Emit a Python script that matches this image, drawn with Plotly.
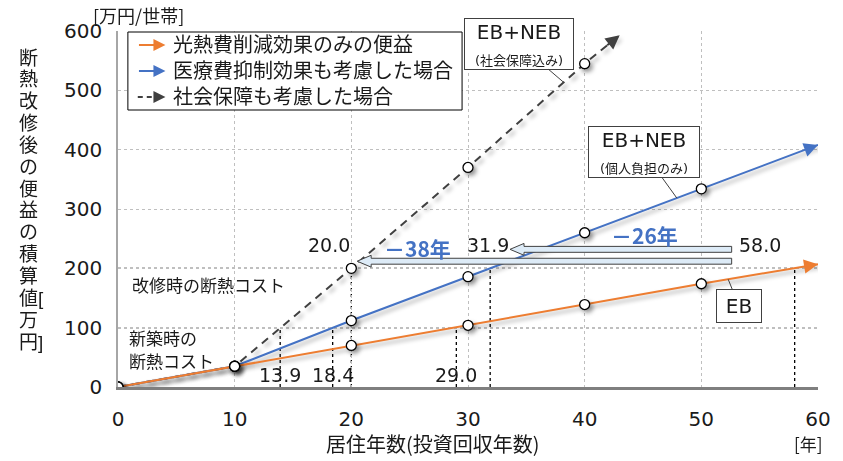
import plotly.graph_objects as go

# ---- data -------------------------------------------------------------
years = [0, 10, 20, 30, 40, 50]
eb = [0, 35, 70, 104, 139, 174]              # 光熱費削減効果のみ
eb_neb = [0, 35, 112, 186, 260, 334]         # 医療費抑制効果も考慮
years_ss = [0, 10, 20, 30, 40]
eb_neb_ss = [0, 35, 200, 370, 545]           # 社会保障も考慮

eb_end = (60, 207)
eb_neb_end = (60, 408)
eb_neb_ss_end = (43.0, 593)

cost_new = 100        # 新築時の断熱コスト
cost_retrofit = 200   # 改修時の断熱コスト

payback_ss = [13.9, 20.0]
payback_neb = [18.4, 31.9]
payback_eb = [29.0, 58.0]

x_ticks = [0, 10, 20, 30, 40, 50, 60]
y_ticks = [0, 100, 200, 300, 400, 500, 600]

ORANGE = "#ED7D31"
BLUE = "#4472C4"
DARK = "#404040"
TXT = "#1a1a1a"
FONT = "DejaVu Sans, Noto Sans CJK JP, sans-serif"
JFONT = "Noto Sans CJK JP, DejaVu Sans, sans-serif"
# Latin-first stack: CJK glyphs still come from Noto, but line boxes stay compact
TIGHT_FONT = "Liberation Sans, Noto Sans CJK JP, sans-serif"

# plot-area pixel frame (used to place free text in paper coordinates)
L, R, T, B = 118, 826, 31, 387
W, H = R - L, B - T
X_MAX, Y_MAX = 60, 600


def px(x):
    return (x - L) / W


def py(y):
    return (B - y) / H


def to_pix(x, y):
    return L + x * W / X_MAX, B - y * H / Y_MAX


fig = go.Figure()

series = [
    (years, eb, eb_end, ORANGE, "solid"),
    (years, eb_neb, eb_neb_end, BLUE, "solid"),
    (years_ss, eb_neb_ss, eb_neb_ss_end, DARK, "8px,6px"),
]

# draw the dashed one first so the solid lines sit above it
for xs, ys, end, color, dash in reversed(series):
    fig.add_trace(go.Scatter(
        x=xs + [end[0]], y=ys + [end[1]], mode="lines",
        line=dict(color=color, width=2, dash=dash),
        hoverinfo="skip", showlegend=False,
    ))

annotations = []
shapes = []


def txt(xp, yp, text, size, family=JFONT, color=TXT, xanchor="center",
        align="center"):
    annotations.append(dict(x=px(xp), y=py(yp), xref="paper", yref="paper",
                            xanchor=xanchor, yanchor="middle", align=align,
                            text=text, showarrow=False,
                            font=dict(size=size, color=color, family=family)))


# arrow heads at the end of each series
for xs, ys, end, color, dash in series:
    slope = (end[1] - ys[-1]) / (end[0] - xs[-1])
    annotations.append(dict(
        x=end[0], y=end[1], xref="x", yref="y",
        ax=end[0] - 1.2, ay=end[1] - slope * 1.2, axref="x", ayref="y",
        showarrow=True, arrowhead=2, arrowsize=1.4, arrowwidth=2,
        arrowcolor=color, text="", standoff=0,
    ))

# reference cost levels
for level in (cost_new, cost_retrofit):
    shapes.append(dict(type="line", xref="x", yref="y", x0=0, x1=X_MAX,
                       y0=level, y1=level, layer="below",
                       line=dict(color="#000000", width=1.3, dash="dot")))

# payback-year drop lines
for yrs in (payback_ss, payback_neb, payback_eb):
    for yr, level in zip(yrs, (cost_new, cost_retrofit)):
        shapes.append(dict(type="line", xref="x", yref="y", x0=yr, x1=yr,
                           y0=0, y1=level, layer="below",
                           line=dict(color="#000000", width=1.3, dash="dot")))

# markers on top
for xs, ys, end, color, dash in series:
    fig.add_trace(go.Scatter(
        x=xs, y=ys, mode="markers",
        marker=dict(size=10, color="white", line=dict(color="#000000", width=1.3)),
        hoverinfo="skip", showlegend=False,
    ))

# ---- block arrows showing the shortened payback ---------------------
def block_arrow(x_tail, x_tip, yc, shaft=10.0, head=20.0, head_len=1.2):
    hs, hh = shaft / 2, head / 2
    xb = x_tip + head_len
    return (f"M {x_tail},{yc - hs} L {xb},{yc - hs} L {xb},{yc - hh} "
            f"L {x_tip},{yc} L {xb},{yc + hh} L {xb},{yc + hs} "
            f"L {x_tail},{yc + hs} Z")


tail_x = payback_eb[1] - 5.4
tip_ss = payback_ss[1] + 0.5
tip_neb = payback_neb[1] + 1.7
shapes.append(dict(type="path", xref="x", yref="y",
                   path=block_arrow(tail_x, tip_ss, 212),
                   fillcolor="#DDEBF7", line=dict(color=DARK, width=1)))
shapes.append(dict(type="path", xref="x", yref="y",
                   path=block_arrow(tail_x, tip_neb, 232),
                   fillcolor="#DDEBF7", line=dict(color=DARK, width=1)))

# ---- numeric labels ---------------------------------------------------
for yr in (payback_ss[0], payback_neb[0], payback_eb[0]):
    annotations.append(dict(x=yr, y=0, xref="x", yref="y", yshift=12,
                            yanchor="middle", xanchor="center",
                            text=f"{yr:.1f}", showarrow=False,
                            font=dict(size=19, color=TXT, family=FONT)))

for xv, label, anchor, shift in ((payback_ss[1], payback_ss[1], "right", 1),
                                 (tip_neb, payback_neb[1], "right", 1),
                                 (tail_x, payback_eb[1], "left", 5)):
    annotations.append(dict(x=xv, y=239, xref="x", yref="y",
                            xanchor=anchor, yanchor="middle", xshift=shift,
                            text=f"{label:.1f}", showarrow=False,
                            font=dict(size=19, color=TXT, family=FONT)))

txt(421, 248, "<b>－38年</b>", 21, color=BLUE)
txt(651, 235, "<b>－26年</b>", 21, color=BLUE)

# cost captions
txt(130, 284, "改修時の断熱コスト", 17, xanchor="left")
txt(127, 339, "新築時の", 17, family=TIGHT_FONT, xanchor="left")
txt(127, 362, "断熱コスト", 17, family=TIGHT_FONT, xanchor="left")

# ---- callouts -----------------------------------------------------------
def interp(xs, ys, end, x):
    pts = list(zip(xs + [end[0]], ys + [end[1]]))
    for (x0, y0), (x1, y1) in zip(pts[:-1], pts[1:]):
        if x0 <= x <= x1:
            return y0 + (y1 - y0) * (x - x0) / (x1 - x0)
    return pts[-1][1]


def callout(xs, ys, end, x_on, center, text, w, h):
    y_on = interp(xs, ys, end, x_on)
    tx, ty = to_pix(x_on, y_on)
    annotations.append(dict(
        x=x_on, y=y_on, xref="x", yref="y",
        ax=center[0] - tx, ay=center[1] - ty, showarrow=True, arrowhead=0,
        arrowwidth=1, arrowcolor=DARK, text=text, width=w, height=h,
        bgcolor="white", bordercolor=DARK, borderwidth=1, borderpad=2,
        font=dict(size=20, color=TXT, family=FONT),
    ))


callout(years_ss, eb_neb_ss, eb_neb_ss_end, 38.2, (524, 44),
        "EB+NEB<br><span style='font-size:13px'>(社会保障込み)</span>", 104, 46)
callout(years, eb_neb, eb_neb_end, 47.9, (650, 152),
        "EB+NEB<br><span style='font-size:13px'>(個人負担のみ)</span>", 106, 46)
callout(years, eb, eb_end, 52.3, (746, 306), "EB", 40, 28)

# ---- custom legend with arrow keys ------------------------------------
shapes.append(dict(type="rect", xref="paper", yref="paper",
                   x0=px(128), x1=px(466), y0=py(110), y1=py(32),
                   fillcolor="white", line=dict(color="#000000", width=1)))
legend_rows = [
    ("光熱費削減効果のみの便益", ORANGE, 45),
    ("医療費抑制効果も考慮した場合", BLUE, 71),
    ("社会保障も考慮した場合", DARK, 97),
]
key_tip = 166
for label, color, ypix in legend_rows:
    if color == DARK:
        shapes.append(dict(type="line", xref="paper", yref="paper",
                           x0=px(138), x1=px(158), y0=py(ypix), y1=py(ypix),
                           line=dict(color=color, width=2, dash="5px,4px")))
        tail = 156
    else:
        tail = 138
    annotations.append(dict(x=px(key_tip), y=py(ypix), xref="paper", yref="paper",
                            ax=tail - key_tip, ay=0,
                            showarrow=True, arrowhead=2, arrowsize=1.2,
                            arrowwidth=2, arrowcolor=color, text="", standoff=0))
    txt(172, ypix, label, 20, family=TIGHT_FONT, xanchor="left")

# ---- axis captions ----------------------------------------------------
txt(91, 15, "[万円/世帯]", 18, xanchor="left")
txt(437, 443, "居住年数(投資回収年数)", 20)
txt(816, 443, "[年]", 17)

# vertical (stacked) y-axis title, one glyph per row
y_title_rows = ["断", "熱", "改", "修", "後", "の", "便", "益", "の", "積", "算",
                "値[", "万", "円]"]
for i, ch in enumerate(y_title_rows):
    txt(15.5, 58 + i * 21.85, ch, 19, family=TIGHT_FONT, xanchor="left")

fig.update_layout(
    width=843, height=461,
    margin=dict(l=L, r=843 - R, t=T, b=461 - B),
    paper_bgcolor="white", plot_bgcolor="white",
    showlegend=False,
    shapes=shapes, annotations=annotations,
    xaxis=dict(range=[0, X_MAX], tickvals=x_ticks, showgrid=True,
               gridcolor="#BFBFBF", griddash="dot", gridwidth=1,
               zeroline=False, showline=True, linecolor="#7F7F7F", linewidth=2.5,
               ticks="", ticklabelstandoff=12,
               tickfont=dict(size=20, color=TXT, family=FONT)),
    yaxis=dict(range=[0, Y_MAX], tickvals=y_ticks, showgrid=True,
               gridcolor="#BFBFBF", griddash="dot", gridwidth=1,
               zeroline=False, showline=True, linecolor="#A6A6A6", linewidth=1.5,
               ticks="", ticklabelstandoff=10,
               tickfont=dict(size=20, color=TXT, family=FONT)),
)

shadow_css = """
var st = document.createElement('style');
st.textContent = '.scatterlayer .trace { filter: drop-shadow(3px 3px 2px rgba(0,0,0,0.35)); }';
document.head.appendChild(st);
"""

fig.write_html("out.html", post_script=shadow_css)
